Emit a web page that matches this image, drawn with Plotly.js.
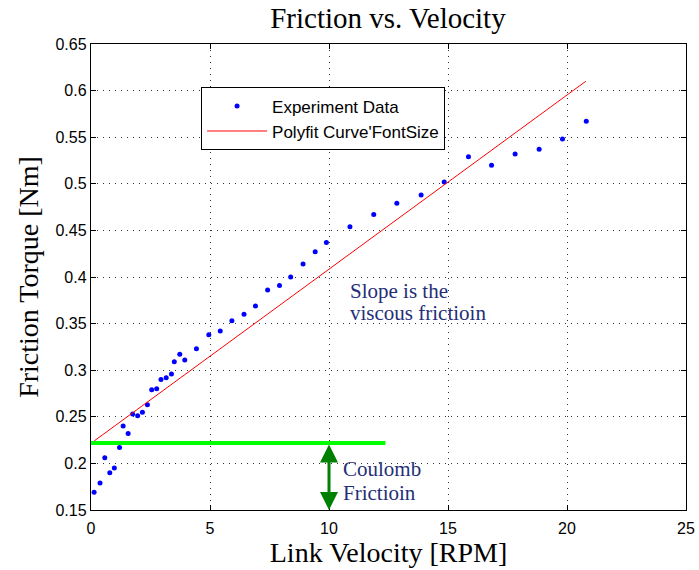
<!DOCTYPE html>
<html>
<head>
<meta charset="utf-8">
<script src="https://cdn.plot.ly/plotly-3.0.1.min.js"></script>
<style>html,body{margin:0;padding:0;background:#fff;}#chart{width:699px;height:570px;}</style>
</head>
<body>
<div id="chart"></div>
<script>
var velocity = [0.13,0.38,0.58,0.79,0.98,1.20,1.35,1.56,1.75,1.96,2.16,2.37,2.55,2.76,2.94,3.16,3.38,3.50,3.73,3.94,4.43,4.95,5.43,5.92,6.43,6.91,7.42,7.92,8.39,8.91,9.42,9.89,10.88,11.88,12.85,13.87,14.84,15.86,16.83,17.82,18.83,19.81,20.81];
var torque = [0.169,0.179,0.206,0.190,0.195,0.217,0.240,0.232,0.253,0.251,0.255,0.263,0.279,0.280,0.290,0.292,0.296,0.309,0.317,0.311,0.323,0.338,0.342,0.353,0.360,0.369,0.386,0.391,0.400,0.414,0.427,0.437,0.454,0.467,0.479,0.488,0.502,0.529,0.520,0.532,0.537,0.548,0.567];
// Polyfit line end points
var fitX = [0.13, 20.79];
var fitY = [0.224, 0.610];
// Coulomb friction level line
var coulombX = [0, 12.37];
var coulombY = [0.222, 0.222];
// Arrow (Coulomb friction) ends
var arrowX = 10;
var arrowTop = 0.222;
var arrowBottom = 0.15;
var xTicks = [0,5,10,15,20,25];
var yTicks = [0.15,0.2,0.25,0.3,0.35,0.4,0.45,0.5,0.55,0.6,0.65];
// Annotation text lines
var coulombLines = ['Coulomb', 'Frictioin'];
var slopeLines = ['Slope is the', 'viscous frictioin'];

var serif = '"Liberation Serif","Times New Roman",serif';
var sans = '"Liberation Sans",Arial,sans-serif';
var noteColor = '#1f2f78';

var traces = [
  {x: velocity, y: torque, mode: 'markers', type: 'scatter', name: 'Experiment Data',
   marker: {color: '#0000ff', size: 5}},
  {x: fitX, y: fitY, mode: 'lines', type: 'scatter', name: "Polyfit Curve'FontSize",
   line: {color: '#ff0000', width: 1}},
  {x: coulombX, y: coulombY, mode: 'lines', type: 'scatter', showlegend: false,
   line: {color: '#00ff00', width: 4}}
];

var axisCommon = {
  showline: true, linecolor: '#000', linewidth: 1.2, mirror: 'ticks',
  ticks: 'inside', ticklen: 5, tickcolor: '#000', tickwidth: 1,
  showgrid: true, gridcolor: '#333', griddash: '1px,5px', gridwidth: 1,
  zeroline: false, tickfont: {family: sans, size: 16, color: '#000'}
};

function note(txt, x, y) {
  return {x: x, y: y, xref: 'x', yref: 'y', xanchor: 'left', yanchor: 'middle', align: 'left',
          text: txt, showarrow: false, font: {family: serif, size: 21, color: noteColor}};
}

var layout = {
  width: 699, height: 570,
  margin: {l: 91, r: 13, t: 44, b: 60},
  paper_bgcolor: '#fff', plot_bgcolor: '#fff',
  title: {text: 'Friction vs. Velocity', font: {family: serif, size: 29, color: '#000'},
          x: 0.555, xanchor: 'center', y: 0.968, yanchor: 'middle'},
  xaxis: Object.assign({}, axisCommon, {range: [0, 25], tickvals: xTicks, ticktext: xTicks.map(String),
          ticklabelstandoff: 4,
          title: {text: 'Link Velocity [RPM]', font: {family: serif, size: 28, color: '#000'}, standoff: 2}}),
  yaxis: Object.assign({}, axisCommon, {range: [0.15, 0.65], tickvals: yTicks,
          ticktext: yTicks.map(function(v){return String(v);}),
          title: {text: 'Friction Torque [Nm]', font: {family: serif, size: 28, color: '#000'}, standoff: 8}}),
  showlegend: true,
  legend: {x: 0.185, y: 0.907, xanchor: 'left', yanchor: 'top', bgcolor: '#fff',
           bordercolor: '#000', borderwidth: 1, font: {family: sans, size: 17, color: '#000'},
           itemwidth: 60, tracegroupgap: 0},
  annotations: [
    {x: arrowX, y: arrowBottom, ax: arrowX, ay: arrowTop, xref: 'x', yref: 'y', axref: 'x', ayref: 'y',
     text: '', showarrow: true, arrowhead: 2, arrowside: 'end+start', arrowsize: 1.2,
     arrowwidth: 3, arrowcolor: '#008000', standoff: 0, startstandoff: 0},
    note(coulombLines[0], 10.5, 0.194),
    note(coulombLines[1], 10.5, 0.168),
    note(slopeLines[0], 10.8, 0.385),
    note(slopeLines[1], 10.8, 0.361)
  ]
};

Plotly.newPlot('chart', traces, layout, {displayModeBar: false, staticPlot: true});
</script>
</body>
</html>
